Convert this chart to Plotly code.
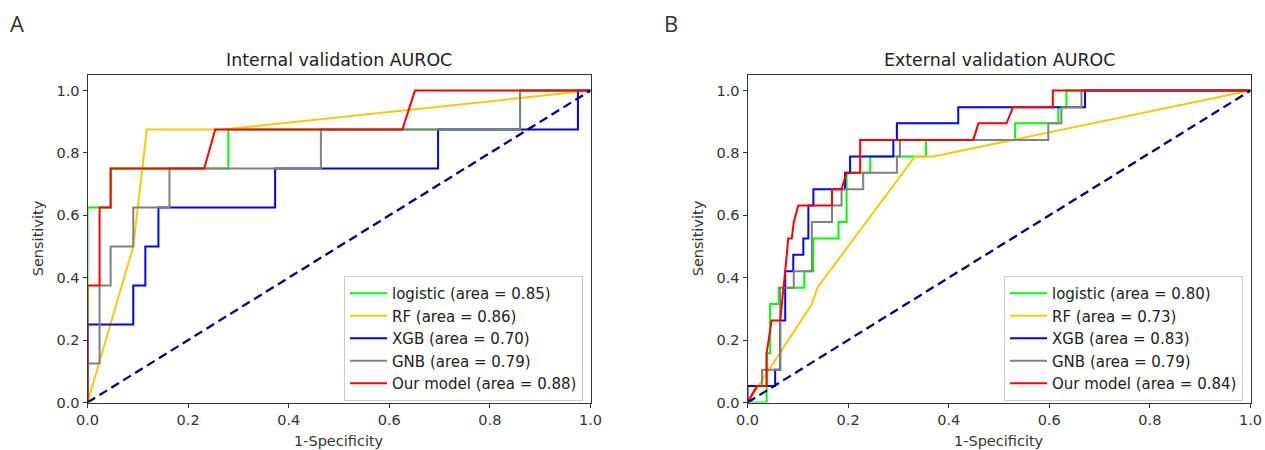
import plotly.graph_objects as go

# ---- ROC curves, internal validation (panel A) ----
int_logistic_fpr = [0, 0, 0.046, 0.046, 0.28, 0.28, 0.86, 0.86, 1.0]
int_logistic_tpr = [0, 0.625, 0.625, 0.75, 0.75, 0.875, 0.875, 1.0, 1.0]

int_rf_fpr = [0, 0.091, 0.118, 0.27, 1.0]
int_rf_tpr = [0, 0.5, 0.875, 0.875, 1.0]

int_xgb_fpr = [0, 0, 0.091, 0.091, 0.115, 0.115, 0.141, 0.141, 0.373, 0.373, 0.697, 0.697, 0.975, 0.975, 1.0]
int_xgb_tpr = [0, 0.25, 0.25, 0.375, 0.375, 0.5, 0.5, 0.625, 0.625, 0.75, 0.75, 0.875, 0.875, 1.0, 1.0]

int_gnb_fpr = [0, 0, 0.024, 0.024, 0.046, 0.046, 0.091, 0.091, 0.163, 0.163, 0.464, 0.464, 0.86, 0.86, 1.0]
int_gnb_tpr = [0, 0.125, 0.125, 0.375, 0.375, 0.5, 0.5, 0.625, 0.625, 0.75, 0.75, 0.875, 0.875, 1.0, 1.0]

int_our_fpr = [0, 0, 0.024, 0.024, 0.046, 0.046, 0.232, 0.254, 0.626, 0.651, 1.0]
int_our_tpr = [0, 0.375, 0.375, 0.625, 0.625, 0.75, 0.75, 0.875, 0.875, 1.0, 1.0]

int_auc = {"logistic": 0.85, "RF": 0.86, "XGB": 0.70, "GNB": 0.79, "Our model": 0.88}

# ---- ROC curves, external validation (panel B) ----
ext_logistic_fpr = [0, 0.038, 0.038, 0.045, 0.045, 0.062, 0.062, 0.113, 0.113, 0.131, 0.131, 0.181, 0.181,
                    0.197, 0.197, 0.244, 0.244, 0.355, 0.355, 0.532, 0.532, 0.618, 0.618, 0.634, 0.634, 1.0]
ext_logistic_tpr = [0, 0, 0.158, 0.158, 0.316, 0.316, 0.368, 0.368, 0.421, 0.421, 0.526, 0.526, 0.579,
                    0.579, 0.737, 0.737, 0.789, 0.789, 0.842, 0.842, 0.895, 0.895, 0.947, 0.947, 1.0, 1.0]

ext_rf_fpr = [0, 0.02, 0.128, 0.139, 0.333, 0.37, 1.0]
ext_rf_tpr = [0, 0.05, 0.316, 0.368, 0.789, 0.789, 1.0]

ext_xgb_fpr = [0, 0, 0.055, 0.055, 0.065, 0.065, 0.075, 0.075, 0.091, 0.091, 0.111, 0.111, 0.121, 0.121,
               0.131, 0.131, 0.194, 0.194, 0.204, 0.204, 0.29, 0.29, 0.297, 0.297, 0.419, 0.419, 0.671, 0.671, 1.0]
ext_xgb_tpr = [0, 0.053, 0.053, 0.105, 0.105, 0.263, 0.263, 0.421, 0.421, 0.474, 0.474, 0.526, 0.526, 0.632,
               0.632, 0.684, 0.684, 0.737, 0.737, 0.789, 0.789, 0.842, 0.842, 0.895, 0.895, 0.947, 0.947, 1.0, 1.0]

ext_gnb_fpr = [0, 0.019, 0.029, 0.029, 0.065, 0.065, 0.092, 0.092, 0.128, 0.128, 0.168, 0.168, 0.187, 0.187,
               0.23, 0.23, 0.297, 0.297, 0.303, 0.303, 0.598, 0.598, 0.624, 0.624, 0.664, 0.664, 1.0]
ext_gnb_tpr = [0, 0.053, 0.053, 0.105, 0.105, 0.368, 0.368, 0.421, 0.421, 0.579, 0.579, 0.632, 0.632, 0.684,
               0.684, 0.737, 0.737, 0.789, 0.789, 0.842, 0.842, 0.895, 0.895, 0.947, 0.947, 1.0, 1.0]

ext_our_fpr = [0, 0.019, 0.038, 0.038, 0.048, 0.065, 0.075, 0.081, 0.088, 0.092, 0.101, 0.168, 0.168, 0.187,
               0.197, 0.224, 0.224, 0.449, 0.459, 0.515, 0.528, 0.607, 0.607, 1.0]
ext_our_tpr = [0, 0.053, 0.053, 0.158, 0.263, 0.263, 0.421, 0.526, 0.526, 0.579, 0.632, 0.632, 0.684, 0.684,
               0.737, 0.737, 0.842, 0.842, 0.895, 0.895, 0.947, 0.947, 1.0, 1.0]

ext_auc = {"logistic": 0.80, "RF": 0.73, "XGB": 0.83, "GNB": 0.79, "Our model": 0.84}

model_colors = {"logistic": "#00ff00", "RF": "#ffc800", "XGB": "#0000ff", "GNB": "#808080", "Our model": "#ff0000"}

tick_vals = [0.0, 0.2, 0.4, 0.6, 0.8, 1.0]

W, H = 1265, 450
FONT = "DejaVu Sans"
BASE = 14.5          # tick / axis-label text size
LEGEND = 15          # legend text size
TITLE = 17.4         # subplot title size


def px_x(p):
    return p / W


def px_y(p):
    return 1 - p / H


panels = [
    {
        "title": "Internal validation AUROC", "letter": "A", "xaxis": "x", "yaxis": "y", "legend": "legend",
        "left": 87.5, "right": 590.5, "letter_x": 17, "legend_x": 344,
        "curves": [("logistic", int_logistic_fpr, int_logistic_tpr), ("RF", int_rf_fpr, int_rf_tpr),
                   ("XGB", int_xgb_fpr, int_xgb_tpr), ("GNB", int_gnb_fpr, int_gnb_tpr),
                   ("Our model", int_our_fpr, int_our_tpr)],
        "auc": int_auc,
    },
    {
        "title": "External validation AUROC", "letter": "B", "xaxis": "x2", "yaxis": "y2", "legend": "legend2",
        "left": 747.5, "right": 1250.5, "letter_x": 671, "legend_x": 1004,
        "curves": [("logistic", ext_logistic_fpr, ext_logistic_tpr), ("RF", ext_rf_fpr, ext_rf_tpr),
                   ("XGB", ext_xgb_fpr, ext_xgb_tpr), ("GNB", ext_gnb_fpr, ext_gnb_tpr),
                   ("Our model", ext_our_fpr, ext_our_tpr)],
        "auc": ext_auc,
    },
]

PLOT_TOP, PLOT_BOTTOM = 75, 402.5

fig = go.Figure()
annotations = []
layout_axes = {}
legends = {}

for i, p in enumerate(panels):
    for name, fpr, tpr in p["curves"]:
        fig.add_trace(go.Scatter(
            x=fpr, y=tpr, mode="lines",
            name=f"{name} (area = {p['auc'][name]:.2f})",
            line=dict(color=model_colors[name], width=2),
            xaxis=p["xaxis"], yaxis=p["yaxis"], legend=p["legend"],
        ))
    # chance diagonal
    fig.add_trace(go.Scatter(
        x=[0, 1], y=[0, 1], mode="lines", showlegend=False,
        line=dict(color="#000080", width=2.3, dash="9px,5px"),
        xaxis=p["xaxis"], yaxis=p["yaxis"],
    ))

    sfx = "" if i == 0 else str(i + 1)
    axis_common = dict(
        showline=True, mirror=True, linecolor="#333333", linewidth=1,
        ticks="outside", ticklen=4, tickcolor="#333333", tickwidth=1,
        tickvals=tick_vals, tickformat=".1f", showgrid=False, zeroline=False,
        tickfont=dict(family=FONT, size=BASE, color="#333333"), fixedrange=True,
        automargin=False,
    )
    layout_axes["xaxis" + sfx] = dict(
        axis_common, range=[0, 1],
        domain=[px_x(p["left"]), px_x(p["right"])],
        anchor="y" + sfx,
    )
    layout_axes["yaxis" + sfx] = dict(
        axis_common, range=[0, 1.05],
        domain=[px_y(PLOT_BOTTOM), px_y(PLOT_TOP)],
        anchor="x" + sfx,
    )

    legends[p["legend"]] = dict(
        x=px_x(p["legend_x"]), y=px_y(276),
        xanchor="left", yanchor="top", bgcolor="rgba(255,255,255,0.85)",
        bordercolor="#cccccc", borderwidth=1,
        font=dict(family=FONT, size=LEGEND, color="#222222"),
        itemwidth=37, tracegroupgap=0,
    )

    cx = (p["left"] + p["right"]) / 2
    annotations += [
        dict(text=p["title"], x=px_x(cx), y=px_y(60), xref="paper", yref="paper",
             showarrow=False, xanchor="center", yanchor="middle",
             font=dict(family=FONT, size=TITLE, color="#222222")),
        dict(text=p["letter"], x=px_x(p["letter_x"]), y=px_y(23), xref="paper", yref="paper",
             showarrow=False, xanchor="center", yanchor="middle",
             font=dict(family="Open Sans", size=22, color="#333333")),
        dict(text="1-Specificity", x=px_x(cx), y=px_y(441), xref="paper", yref="paper",
             showarrow=False, xanchor="center", yanchor="middle",
             font=dict(family=FONT, size=BASE, color="#333333")),
        dict(text="Sensitivity", x=px_x(p["left"] - 50), y=px_y((PLOT_TOP + PLOT_BOTTOM) / 2),
             xref="paper", yref="paper", textangle=-90,
             showarrow=False, xanchor="center", yanchor="middle",
             font=dict(family=FONT, size=BASE, color="#333333")),
    ]

fig.update_layout(
    width=W, height=H,
    margin=dict(l=0, r=0, t=0, b=0, autoexpand=False),
    paper_bgcolor="white", plot_bgcolor="white",
    annotations=annotations,
    **legends,
    **layout_axes,
)

fig.write_html("out.html", config={"displayModeBar": False})
